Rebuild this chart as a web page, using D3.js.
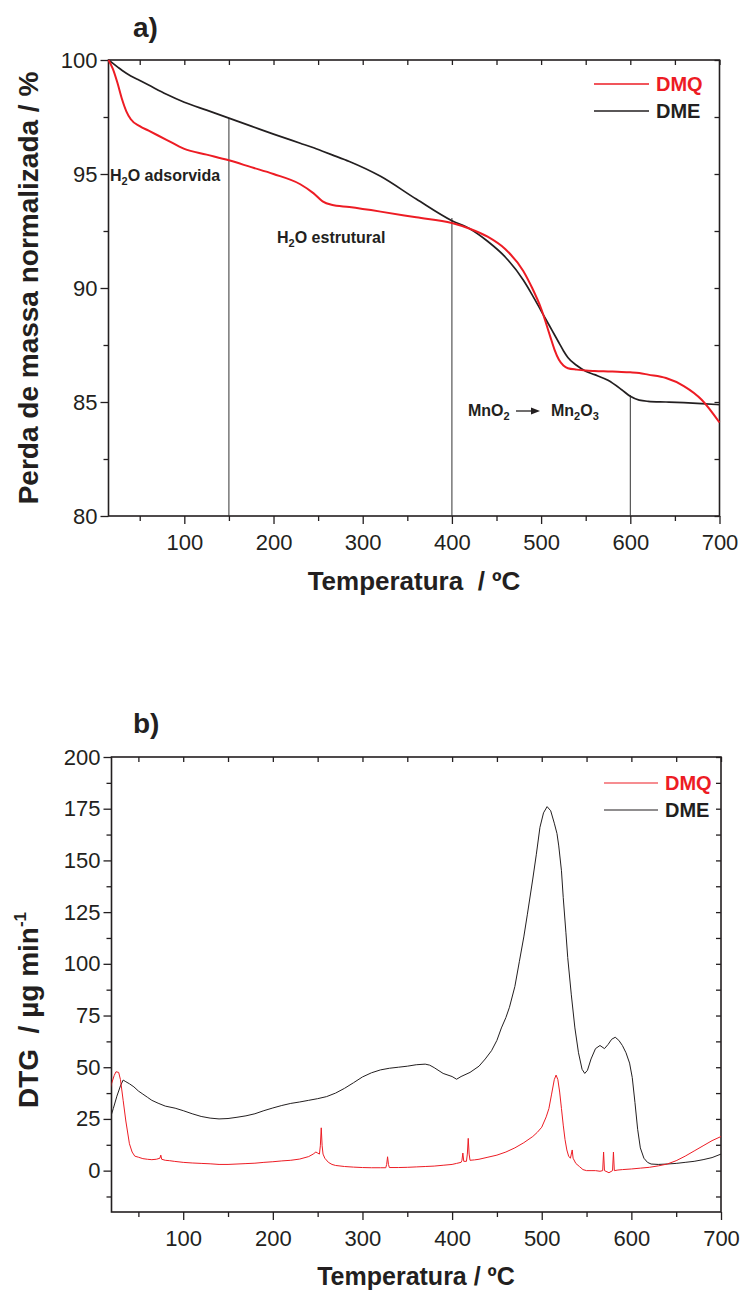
<!DOCTYPE html>
<html><head><meta charset="utf-8">
<script src="https://cdn.jsdelivr.net/npm/d3@7/dist/d3.min.js"></script>
<style>
html,body{margin:0;padding:0;background:#fff;}
svg{display:block;font-family:"Liberation Sans",Arial,sans-serif;}
</style></head>
<body>
<script>
// ---------- DATA ----------
// Panel a) TG
const tgTemp = [15,20,25,30,35,40,50,60,80,100,125,150,175,200,230,245,255,265,285,320,360,400,420,440,460,480,490,500,510,515,520,525,530,540,550,560,575,590,600,610,620,640,660,680,700];
const tgDMQ  = [100,99.6,99.0,98.3,97.75,97.4,97.1,96.9,96.5,96.1,95.85,95.6,95.3,95.0,94.55,94.15,93.8,93.65,93.55,93.35,93.1,92.85,92.6,92.25,91.7,90.75,90.0,89.1,87.9,87.3,86.85,86.6,86.48,86.42,86.38,86.36,86.34,86.32,86.3,86.27,86.2,86.05,85.7,85.1,84.1];
const tgDME  = [100,99.85,99.7,99.55,99.42,99.3,99.1,98.9,98.5,98.15,97.8,97.45,97.1,96.75,96.35,96.15,96.0,95.85,95.55,94.9,93.9,92.95,92.6,92.05,91.35,90.35,89.7,89.0,88.3,87.95,87.6,87.25,86.95,86.6,86.35,86.2,85.95,85.55,85.25,85.08,85.03,85.0,84.97,84.93,84.88];
const markerTemp = [150,400,600];
const markerTop  = [97.45,93.07,85.3];
const xTicksMajor = [100,200,300,400,500,600,700];
const xTicksMinor = [50,150,250,350,450,550,650];
const yTicksA = [80,85,90,95,100];
const yMinorA = [82.5,87.5,92.5,97.5];

// Panel b) DTG
const dtgT_DMQ = [16,20,23,25,28,30,33,36,40,43,46,50,55,60,65,70,74,75,76,80,85,90,100,110,120,130,140,150,160,170,180,190,200,210,220,230,240,245,248,250,252,253,254,255,256,258,262,266,270,280,290,300,310,320,326,327,328,329,330,340,350,360,370,380,390,400,405,410,411,412,413,416,417,418,419,420,425,430,440,450,460,470,480,490,495,500,505,508,511,514,516,518,520,522,524,526,528,530,532,533,534,535,538,542,546,550,555,560,565,568,569,570,575,579,580,581,585,590,600,610,620,630,640,650,660,670,680,690,700];
const dtgDMQ   = [35,42,46,47.8,47.5,44,34,24,13,9,7,6.5,5.8,5.5,5.3,5.5,6,7.5,5.5,5,4.8,4.5,4,3.7,3.5,3.3,3.0,3.0,3.2,3.4,3.6,4.0,4.3,4.7,5.0,5.6,6.8,8,9,8.5,8,12,20.7,12,8,6,4,3,2.5,2,1.7,1.5,1.4,1.4,1.4,3,6.7,3,1.5,1.5,1.6,1.8,2,2.2,2.6,3,3.5,4,5,8.5,4.5,4.5,8,15.6,8,5,5.2,5.5,6.5,7.5,9,11,13.5,16.5,18.5,21,26,30,37,44,46.2,44,38,30,22,15,10,7,6,8,10,6,3.5,2,0.5,0,0,0,-0.3,0,9,0,-1,0,9,0,0.3,0.5,0.8,1.2,1.6,2.3,3.2,4.8,7,9.5,12,14.5,16.5];
const dtgT_DME = [18,22,26,30,33,36,40,45,50,55,60,65,72,80,91,100,110,120,130,140,150,160,170,180,190,200,210,220,230,240,250,260,270,280,290,300,310,320,330,340,350,360,370,375,380,390,400,405,410,420,430,437,444,450,455,460,464,470,475,480,484,490,494,498,502,506,510,514,517,519,522,524,527,529,533,537,541,545,548,551,555,560,565,570,574,578,582,586,590,594,598,601,604,607,610,614,618,622,630,640,650,660,670,680,690,700];
const dtgDME   = [24.5,30,36,41,43.8,43,42,40.5,38.5,37,35.5,34,32.6,31.2,30.2,29,27.5,26.2,25.4,25,25.2,25.8,26.5,27.5,29,30.3,31.5,32.5,33.2,34,34.8,35.8,37.5,39.8,42.5,45.3,47.3,48.7,49.5,50,50.5,51.2,51.5,51,49.8,47,45.5,44.2,45.5,47.5,50.5,54,58,63,69,74,79,89,101,113,124,141,153,166,173,176,174,168,163,157,145,132,115,103,85,69,57,49,47,48.5,54,59,60.5,59,61,63.5,64.5,63,60.5,57,52,45,33,20,11,6,4,3.2,3,3.2,3.5,4,4.5,5.3,6.3,8];
const yTicksB = [0,25,50,75,100,125,150,175,200];
const yMinorB = [-12.5,12.5,37.5,62.5,87.5,112.5,137.5,162.5,187.5];

const seriesNames = ["DMQ","DME"];
const RED = "#ed1c24", BLK = "#231f20";

// ---------- DRAW ----------
const svg = d3.select("body").append("svg").attr("width",742).attr("height",1293);

function panel(opt){
  const g = svg.append("g");
  const x = opt.x, y = opt.y;
  const [x0,x1] = x.range(), [y1,y0] = y.range();
  const tickStyle = sel => { sel.select(".domain").remove(); sel.selectAll("line").attr("stroke",BLK).attr("stroke-width",1.3); sel.selectAll("text").attr("font-size",22).attr("fill",BLK).attr("font-family","Liberation Sans, Arial, sans-serif"); };
  g.append("g").attr("transform",`translate(0,${y1})`).call(d3.axisBottom(x).tickValues(xTicksMajor).tickSize(8).tickPadding(10).tickFormat(d3.format("d"))).call(tickStyle);
  g.append("g").attr("transform",`translate(0,${y1})`).call(d3.axisBottom(x).tickValues(xTicksMinor).tickSize(5).tickFormat("")).call(tickStyle);
  g.append("g").attr("transform",`translate(${x0},0)`).call(d3.axisLeft(y).tickValues(opt.yMajor).tickSize(8).tickPadding(3).tickFormat(d3.format("d"))).call(tickStyle);
  g.append("g").attr("transform",`translate(${x0},0)`).call(d3.axisLeft(y).tickValues(opt.yMinor).tickSize(5).tickFormat("")).call(tickStyle);
  g.append("g").attr("transform",`translate(0,${y0})`).call(d3.axisBottom(x).tickValues(xTicksMajor.concat(xTicksMinor)).tickSize(5).tickFormat("")).call(tickStyle);
  g.append("g").attr("transform",`translate(${x1},0)`).call(d3.axisLeft(y).tickValues(opt.yMajor.concat(opt.yMinor)).tickSize(5).tickFormat("")).call(tickStyle);
  g.append("rect").attr("x",x0).attr("y",y0).attr("width",x1-x0).attr("height",y1-y0)
    .attr("fill","none").attr("stroke",BLK).attr("stroke-width",1.6);
  return g;
}

// Panel a
const xA = d3.scaleLinear([15,700],[108.5,719.5]);
const yA = d3.scaleLinear([80,100],[516,60]);
const gA = panel({x:xA,y:yA,yMajor:yTicksA,yMinor:yMinorA});

gA.selectAll("line.mk").data(markerTemp).join("line").attr("class","mk")
  .attr("x1",d=>xA(d)).attr("x2",d=>xA(d)).attr("y1",yA(80)).attr("y2",(d,i)=>yA(markerTop[i]))
  .attr("stroke","#333").attr("stroke-width",1);

const lineA = (vals) => d3.line().x((d,i)=>xA(tgTemp[i])).y(d=>yA(d)).curve(d3.curveMonotoneX)(vals);
gA.append("path").attr("d",lineA(tgDME)).attr("fill","none").attr("stroke",BLK).attr("stroke-width",1.7);
gA.append("path").attr("d",lineA(tgDMQ)).attr("fill","none").attr("stroke",RED).attr("stroke-width",2);

// Panel b
const xB = d3.scaleLinear([20,700],[111.5,721]);
const yB = d3.scaleLinear([-20,200],[1212,757]);
const gB = panel({x:xB,y:yB,yMajor:yTicksB,yMinor:yMinorB});
svg.append("clipPath").attr("id","cb").append("rect").attr("x",111.5).attr("y",757).attr("width",721-111.5).attr("height",1212-757);
const lineB = (ts,vals) => d3.line().x((d,i)=>xB(ts[i])).y(d=>yB(d))(vals);
gB.append("path").attr("d",lineB(dtgT_DME,dtgDME)).attr("fill","none").attr("stroke",BLK).attr("stroke-width",1).attr("clip-path","url(#cb)");
gB.append("path").attr("d",lineB(dtgT_DMQ,dtgDMQ)).attr("fill","none").attr("stroke",RED).attr("stroke-width",1).attr("clip-path","url(#cb)");

const T = (x,y,txt,o={}) => svg.append("text").attr("x",x).attr("y",y).text(txt)
  .attr("font-size",o.size||22).attr("font-weight",o.bold?"bold":"normal").attr("fill",o.fill||BLK)
  .attr("text-anchor",o.anchor||"start");

T(133,37,"a)",{size:28,bold:true});
T(133,733,"b)",{size:28,bold:true});
T(414,590,"Temperatura  / ºC",{size:26,bold:true,anchor:"middle"}).style("white-space","pre");
T(416,1285,"Temperatura / ºC",{size:25,bold:true,anchor:"middle"});

svg.append("text").attr("transform","translate(38,288) rotate(-90)").attr("text-anchor","middle")
  .attr("font-size",28).attr("font-weight","bold").attr("fill",BLK).text("Perda de massa normalizada / %");
const dtgLab = svg.append("text").attr("transform","translate(38,1010) rotate(-90)").attr("text-anchor","middle")
  .attr("font-size",28).attr("font-weight","bold").attr("fill",BLK).style("white-space","pre");
dtgLab.append("tspan").text("DTG  / µg min");
dtgLab.append("tspan").text("-1").attr("font-size",17).attr("dy",-12);

function legend(lx0,lx1,tx,ys,stroke){
  seriesNames.forEach((n,i)=>{
    const c = i===0?RED:BLK;
    svg.append("line").attr("x1",lx0).attr("x2",lx1).attr("y1",ys[i]).attr("y2",ys[i]).attr("stroke",c).attr("stroke-width",stroke);
    T(tx,ys[i]+7,n,{size:20,bold:true,fill:c});
  });
}
legend(594,649,656,[84,111],1.6);
legend(604,658,665,[783,810],1.1);

function sub2(x,y,segs){
  const t = svg.append("text").attr("x",x).attr("y",y).attr("font-size",16).attr("font-weight","bold").attr("fill",BLK);
  let shifted=false;
  segs.forEach(([s,isSub])=>{
    const ts = t.append("tspan").text(s);
    if(isSub && !shifted){ ts.attr("font-size",11).attr("dy",4); shifted=true; }
    else if(!isSub && shifted){ ts.attr("dy",-4); shifted=false; }
    else if(isSub){ ts.attr("font-size",11); }
  });
}
sub2(110,181,[["H",0],["2",1],["O adsorvida",0]]);
sub2(277,243,[["H",0],["2",1],["O estrutural",0]]);
sub2(468,416,[["MnO",0],["2",1]]);
sub2(551,416,[["Mn",0],["2",1],["O",0],["3",1]]);
svg.append("line").attr("x1",516).attr("x2",532).attr("y1",411).attr("y2",411).attr("stroke",BLK).attr("stroke-width",1.3);
svg.append("path").attr("d","M531,407.5 L540,411 L531,414.5 Z").attr("fill",BLK);
</script>
</body></html>
